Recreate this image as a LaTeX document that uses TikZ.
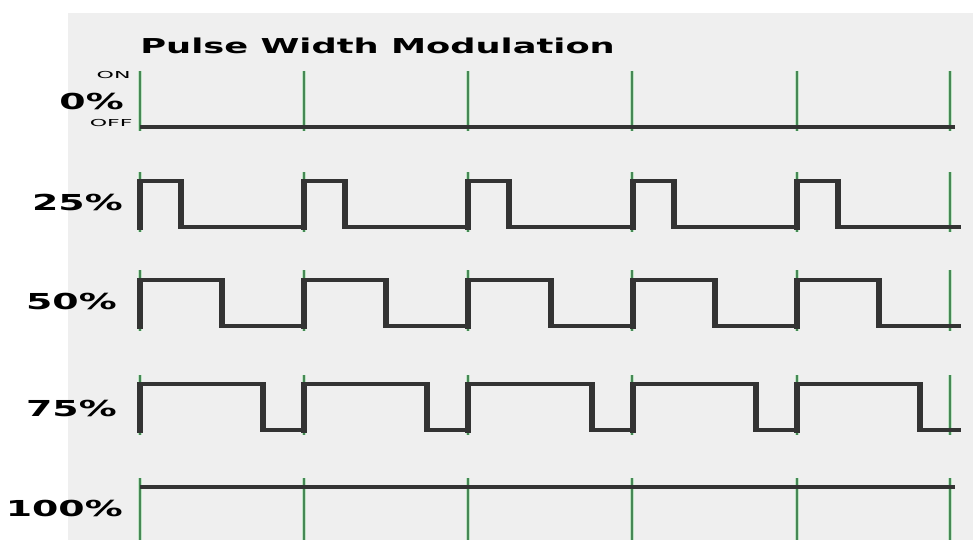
\documentclass[tikz,border=0pt]{standalone}
\usepackage{fontspec}
\setmainfont{DejaVu Sans}

\definecolor{bggray}{RGB}{239,239,239}
\definecolor{wavegray}{RGB}{51,51,51}
\definecolor{tickgreen}{RGB}{70,135,85}
\definecolor{tickhalo}{RGB}{190,228,195}

\begin{document}
\begin{tikzpicture}[x=1pt,y=-1pt,
  pctlabel/.style={font=\bfseries\fontsize{22}{22}\selectfont,xscale=1.72,inner sep=0pt,anchor=east},
  statelabel/.style={font=\fontsize{9.6}{9.6}\selectfont,xscale=2.3,inner sep=0pt,anchor=east},
  gridhalo/.style={tickhalo,line width=4pt},
  gridtick/.style={tickgreen,line width=1.6pt},
  waveline/.style={wavegray,line width=3.2pt},
  waveedge/.style={wavegray,line width=6pt}]
\useasboundingbox (0,0) rectangle (973,540);
% Panel
\fill[bggray] (68,13) rectangle (973,540);
\node[font=\bfseries\fontsize{20.5}{20.5}\selectfont,xscale=1.72,inner sep=0pt,anchor=west]
  (title) at (140,45.5) {Pulse Width Modulation};
% Period marks for each row
\foreach \top/\bot in {71/131,172/232,270/331,375/435,478/540} {
  \foreach \tx in {140,304,468,632,797,950} {
    \draw[gridhalo] (\tx,\top) -- (\tx,\bot);
    \draw[gridtick] (\tx,\top) -- (\tx,\bot);
  }
}
% Constant signals
\draw[waveline] (140,127) -- (955,127);
\draw[waveline] (140,487) -- (955,487);
% Pulse trains: duty / high level / low level
\foreach \duty/\hi/\lo in {0.25/181/227,0.5/280/326,0.75/384/430} {
  \foreach \k in {0,...,4} {
    \pgfmathsetmacro\xr{140+164.2*\k}
    \pgfmathsetmacro\xf{\xr+164.2*\duty}
    \pgfmathsetmacro\xn{\xr+164.2}
    \draw[waveline] (\xr,\hi) -- (\xf,\hi) (\xf,\lo) -- (\xn,\lo);
    \draw[waveedge] (\xr,\hi-1.6) -- (\xr,\lo+3);
    \draw[waveedge] (\xf,\hi-1.6) -- (\xf,\lo+1.6);
  }
}
% Labels
\node[statelabel] (on) at (131,75.5) {ON};
\node[statelabel] (off) at (133,123) {OFF};
\node[pctlabel] (p0) at (124,101) {0\%};
\node[pctlabel] (p25) at (123,202) {25\%};
\node[pctlabel] (p50) at (117,301) {50\%};
\node[pctlabel] (p75) at (117,408) {75\%};
\node[pctlabel] (p100) at (123,508) {100\%};
\end{tikzpicture}
\end{document}
